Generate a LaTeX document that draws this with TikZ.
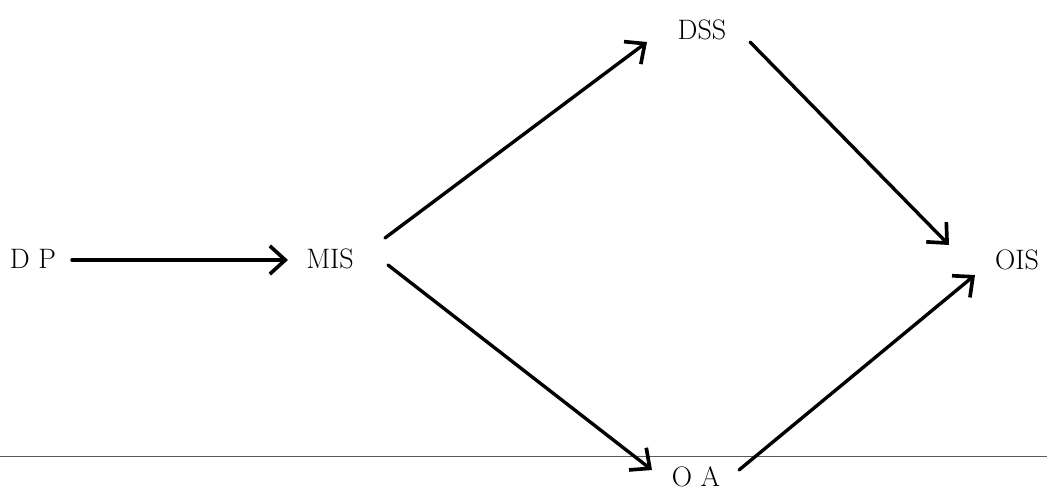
\documentclass[tikz,border=0pt]{standalone}
\usepackage{tikz}
\usetikzlibrary{arrows.meta,calc,positioning}
\usepackage{xcolor}
\definecolor{rulegray}{HTML}{5A5A5A}

\begin{document}
\begin{tikzpicture}[
  x=0.025cm,y=-0.025cm,
  font=\fontsize{20}{24}\selectfont,
  >={Straight Barb[length=11pt,width=20pt,line width=2.6pt]},
  edge/.style={->,line width=2.4pt,draw=black,line cap=round},
  label/.style={inner sep=0pt,anchor=center},
  scanrule/.style={draw=rulegray,line width=0.6pt}
]
\useasboundingbox (0,0) rectangle (1047,493);

\node[label] (dp)  at (33,259)   {D P};
\node[label] (mis) at (330,259)  {MIS};
\node[label] (dss) at (702,30)   {DSS};
\node[label] (ois) at (1017,260) {OIS};
\node[label] (oa)  at (696,477)  {O A};

\coordinate (ruleL) at (0,456);
\coordinate (ruleR) at (1047,456);
\draw[scanrule] (ruleL) -- (ruleR);

\draw[edge] ($(dp)+(39,1)$)   -- ($(mis)+(-42,1)$);
\draw[edge] ($(mis)+(55,-21)$) -- ($(dss)+(-55,12)$);
\draw[edge] ($(dss)+(48,12)$)  -- ($(ois)+(-68,-15)$);
\draw[edge] ($(mis)+(58,6)$)   -- ($(oa)+(-44,-7)$);
\draw[edge] ($(oa)+(43,-7)$)   -- ($(ois)+(-42,15)$);
\end{tikzpicture}
\end{document}
